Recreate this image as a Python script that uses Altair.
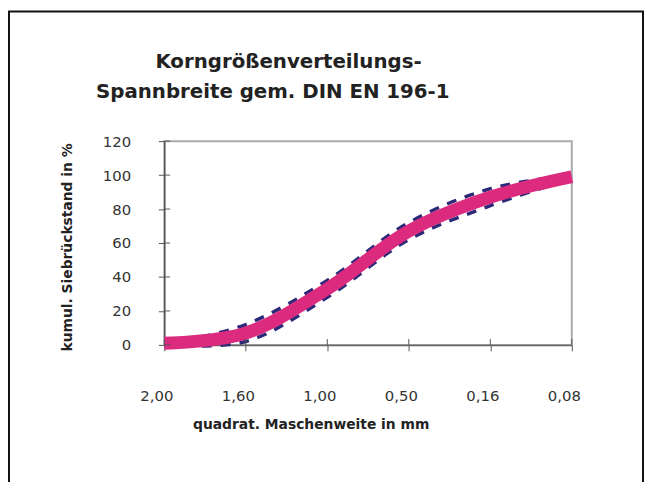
import altair as alt
import pandas as pd

sieves = ["2,00", "1,60", "1,00", "0,50", "0,16", "0,08"]
nominal = [1, 7, 33, 67, 87, 99]
upper = [0, 12, 38, 72, 92, 100]
lower = [0, 2, 28, 62, 82, 98]
y_ticks = [0, 20, 40, 60, 80, 100, 120]
title_lines = ["Korngrößenverteilungs-", "Spannbreite gem. DIN EN 196-1"]
x_title = "quadrat. Maschenweite in mm"
y_title = "kumul. Siebrückstand in %"

W, H = 412, 206
FONT = "DejaVu Sans"

nom_df = pd.DataFrame({"sieve": sieves, "value": nominal})
band_df = pd.DataFrame(
    {"sieve": sieves * 2, "value": upper + lower, "bound": ["upper"] * 6 + ["lower"] * 6}
)
ytick_df = pd.DataFrame({"value": y_ticks})
xtick_df = pd.DataFrame({"sieve": sieves})

x_scale = alt.Scale(type="point", padding=0)
x_axis = alt.Axis(
    title=x_title,
    labelAngle=0,
    labelFont=FONT,
    labelFontSize=15,
    labelColor="#333333",
    labelPadding=38,
    labelOffset=-8,
    labelOverlap=False,
    tickSize=6,
    tickColor="#555555",
    domainColor="#666666",
    domainWidth=1.5,
    titleFont=FONT,
    titleFontSize=14,
    titleFontWeight="bold",
    titleColor="#222222",
    titleX=148,
    titleY=85,
    titleAlign="center",
    titleBaseline="alphabetic",
    grid=False,
)
y_scale = alt.Scale(domain=[0, 120], nice=False)
y_axis = alt.Axis(
    values=y_ticks,
    title=y_title,
    titleAngle=-90,
    titleX=-94,
    titleY=107,
    titleAlign="center",
    titleBaseline="alphabetic",
    titleFont=FONT,
    titleFontSize=14,
    titleFontWeight="bold",
    titleColor="#222222",
    labelFont=FONT,
    labelFontSize=15,
    labelColor="#333333",
    labelPadding=28,
    labelOverlap=False,
    tickSize=6,
    tickColor="#555555",
    domainColor="#555555",
    domainWidth=1.5,
    grid=False,
)
x_enc = alt.X("sieve:N", sort=sieves, scale=x_scale, axis=x_axis)
y_enc = alt.Y("value:Q", scale=y_scale, axis=y_axis)

band = (
    alt.Chart(band_df)
    .mark_line(
        interpolate="catmull-rom",
        color="#2c2a78",
        strokeWidth=3.5,
        strokeDash=[10, 9],
    )
    .encode(x=x_enc, y=y_enc, detail="bound:N")
)

nom = (
    alt.Chart(nom_df)
    .mark_line(interpolate="catmull-rom", color="#dc2a7e", strokeWidth=13, strokeCap="butt")
    .encode(x=x_enc, y=y_enc)
)

ytick_in = (
    alt.Chart(ytick_df)
    .mark_rule(color="#555555", strokeWidth=1)
    .encode(y=y_enc, x=alt.value(0), x2=alt.value(6))
)
xtick_in = (
    alt.Chart(xtick_df)
    .mark_rule(color="#555555", strokeWidth=1)
    .encode(x=x_enc, y=alt.value(H - 6), y2=alt.value(H))
)

one = alt.Data(values=[{"k": 1}])
t1 = alt.Chart(one).mark_text(
    text=title_lines[0], align="left", baseline="alphabetic",
    font=FONT, fontSize=20, fontWeight="bold", color="#222222",
).encode(x=alt.value(-9), y=alt.value(-74))
t2 = alt.Chart(one).mark_text(
    text=title_lines[1], align="left", baseline="alphabetic",
    font=FONT, fontSize=20, fontWeight="bold", color="#222222",
).encode(x=alt.value(-69), y=alt.value(-44))

frame = alt.Chart(one).mark_rect(
    fill="transparent", stroke="#111111", strokeWidth=2
).encode(
    x=alt.value(-157), x2=alt.value(484), y=alt.value(-131), y2=alt.value(H + 300)
)

chart = (
    alt.layer(frame, band, nom, ytick_in, xtick_in, t1, t2)
    .properties(
        width=W,
        height=H,
        padding={"left": 158, "top": 132, "right": 73, "bottom": 136},
        autosize=alt.AutoSizeParams(type="none"),
        background="white",
    )
    .configure_view(stroke="#aaaaaa", strokeWidth=2)
)

chart.save("out.html", embed_options={"renderer": "svg", "actions": False})
